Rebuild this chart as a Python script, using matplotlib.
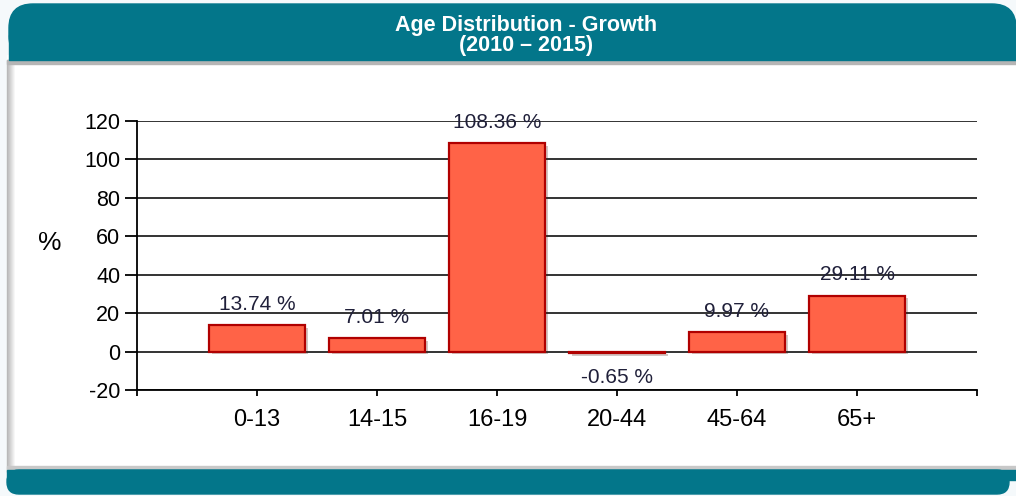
import matplotlib
matplotlib.use("Agg")
import matplotlib.pyplot as plt
import matplotlib.patheffects as pe
from matplotlib.patches import FancyBboxPatch, Rectangle
import numpy as np

categories = ["0-13", "14-15", "16-19", "20-44", "45-64", "65+"]
growth = [13.74, 7.01, 108.36, -0.65, 9.97, 29.11]
labels = ["13.74 %", "7.01 %", "108.36 %", "-0.65 %", "9.97 %", "29.11 %"]
yticks = [-20, 0, 20, 40, 60, 80, 100, 120]

plt.rcParams['font.family'] = ['Liberation Sans', 'DejaVu Sans']
plt.rcParams['axes.unicode_minus'] = False

teal = "#03768a"
fig = plt.figure(figsize=(10.16, 4.96), dpi=100)
fig.patch.set_facecolor("#f5f9fb")

# frame, drawn in pixel coordinates
bg = fig.add_axes([0, 0, 1, 1], zorder=0)
bg.set_xlim(0, 1016)
bg.set_ylim(496, 0)
bg.axis("off")
bg.add_patch(Rectangle((7, 55), 1009, 420, color="white"))
for i, c in enumerate(np.linspace(0.72, 1.0, 9)):
    bg.add_patch(Rectangle((7 + i, 60), 1, 412, color=(c, c, c)))
bg.add_patch(Rectangle((7, 60), 1009, 4, color="#b5b5b5"))
bg.add_patch(FancyBboxPatch((9, 4), 1007, 56, boxstyle="round,pad=0,rounding_size=24", color=teal))
bg.add_patch(Rectangle((9, 35), 1007, 25, color=teal))
bg.add_patch(Rectangle((7, 466), 1009, 5, color="#c8c8c8"))
bg.add_patch(FancyBboxPatch((7, 470), 1002, 24, boxstyle="round,pad=0,rounding_size=12", color=teal))
bg.add_patch(Rectangle((7, 470), 1009, 10, color=teal))
bg.text(526, 26, "Age Distribution - Growth", color="white", fontsize=15.5, fontweight="bold",
        ha="center", va="center")
bg.text(526, 46, "(2010 \u2013 2015)", color="white", fontsize=15.5, fontweight="bold",
        ha="center", va="center")
bg.text(50, 243, "%", fontsize=19, ha="center", va="center")

ax = fig.add_axes([137 / 1016, 106 / 496, 840 / 1016, 269 / 496], zorder=1)
ax.patch.set_alpha(0)
x = np.arange(len(categories))
bars = ax.bar(x, growth, width=0.8, color="#ff6347", edgecolor="#b00000", linewidth=1.6, zorder=3)
for b in bars:
    b.set_path_effects([pe.SimplePatchShadow(offset=(2, -2), alpha=0.25), pe.Normal()])
for xi, v, t in zip(x, growth, labels):
    off = 15 if v >= 0 else -18
    ax.annotate(t, (xi, max(v, 0) if v >= 0 else v), xytext=(0, off), textcoords="offset points",
                ha="center", va="center", fontsize=15, color="#20203a", zorder=4)

ax.set_xlim(-1, 6)
ax.set_ylim(-20, 120)
ax.set_yticks(yticks)
ax.set_xticks(np.arange(-1, 7))
ax.set_xticklabels([""] + categories + [""])
ax.yaxis.grid(True, color="#111111", linewidth=1.2, zorder=1)
ax.set_axisbelow(True)
for s in ["top", "right"]:
    ax.spines[s].set_visible(False)
for s in ["left", "bottom"]:
    ax.spines[s].set_linewidth(1.3)
ax.tick_params(axis="y", length=9, width=1.3, labelsize=15.5, pad=3)
ax.tick_params(axis="x", length=4, width=1.3, labelsize=17, pad=10)

fig.savefig("out.png", dpi=100, facecolor=fig.get_facecolor())
